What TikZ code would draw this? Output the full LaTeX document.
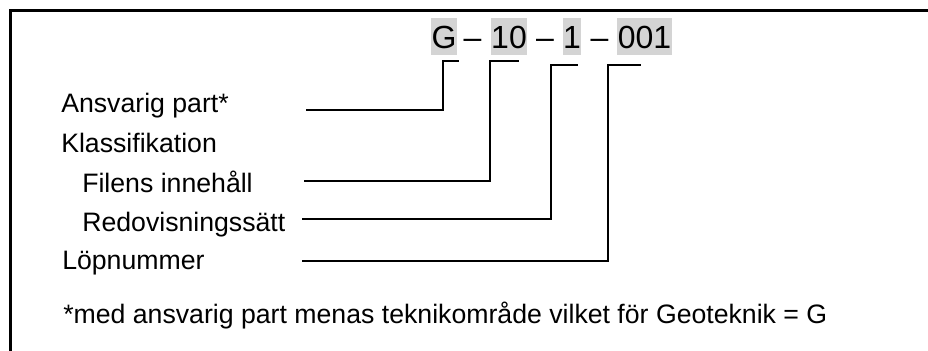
\documentclass[tikz,border=0pt]{standalone}
\usepackage{fontspec}
\setmainfont{Liberation Sans}
\definecolor{codegray}{RGB}{212,212,212}
\tikzstyle{frameline}=[draw=black,line width=1.9pt]
\tikzstyle{connline}=[draw=black,line width=0.8pt]
\tikzstyle{codebox}=[fill=codegray,anchor=base,inner xsep=0.3pt,inner ysep=0pt,text height=22.5pt,text depth=5.2pt,font=\fontsize{24}{28}\selectfont]
\tikzstyle{codedash}=[anchor=base,inner sep=0pt,font=\fontsize{24}{28}\selectfont]
\tikzstyle{label}=[anchor=base west,inner sep=0pt,font=\fontsize{20}{24}\selectfont]

\begin{document}
\begin{tikzpicture}[x=0.75pt,y=-0.75pt]
    \useasboundingbox (0,0) rectangle (928,350);

    % Frame (open to the right and at the bottom)
    \draw[frameline] (10.3,355) |- (935,10.3);

    % Code G - 10 - 1 - 001
    \node[codebox] (codeG) at (444,48) {G};
    \node[codedash] (dash1) at (472.5,48) {\textendash};
    \node[codebox] (code10) at (509,48) {10};
    \node[codedash] (dash2) at (545,48) {\textendash};
    \node[codebox] (code1) at (572,48) {1};
    \node[codedash] (dash3) at (599.5,48) {\textendash};
    \node[codebox] (code001) at (644.5,48) {001};

    % Labels
    \node[label] (ansvarig) at (61,112) {Ansvarig part*};
    \node[label] (klass) at (61,152) {Klassifikation};
    \node[label] (filens) at (82,192) {Filens innehåll};
    \node[label] (redov) at (82,231) {Redovisningssätt};
    \node[label] (lopnr) at (62,269) {Löpnummer};
    \node[label] (fotnot) at (63,323) {*med ansvarig part menas teknikområde vilket för Geoteknik = G};

    % Connector end points
    \coordinate (ansvarig-start) at (306,110);
    \coordinate (ansvarig-top) at (443,61);
    \coordinate (ansvarig-end) at (459,61);
    \coordinate (filens-start) at (304,181);
    \coordinate (filens-top) at (490,61);
    \coordinate (filens-end) at (519,61);
    \coordinate (redov-start) at (302,219);
    \coordinate (redov-top) at (551,65);
    \coordinate (redov-end) at (578,65);
    \coordinate (lopnr-start) at (302,261);
    \coordinate (lopnr-top) at (608,65);
    \coordinate (lopnr-end) at (641,65);

    % Connectors
    \draw[connline] (ansvarig-start) -| (ansvarig-top) -- (ansvarig-end);
    \draw[connline] (filens-start) -| (filens-top) -- (filens-end);
    \draw[connline] (redov-start) -| (redov-top) -- (redov-end);
    \draw[connline] (lopnr-start) -| (lopnr-top) -- (lopnr-end);
\end{tikzpicture}
\end{document}
